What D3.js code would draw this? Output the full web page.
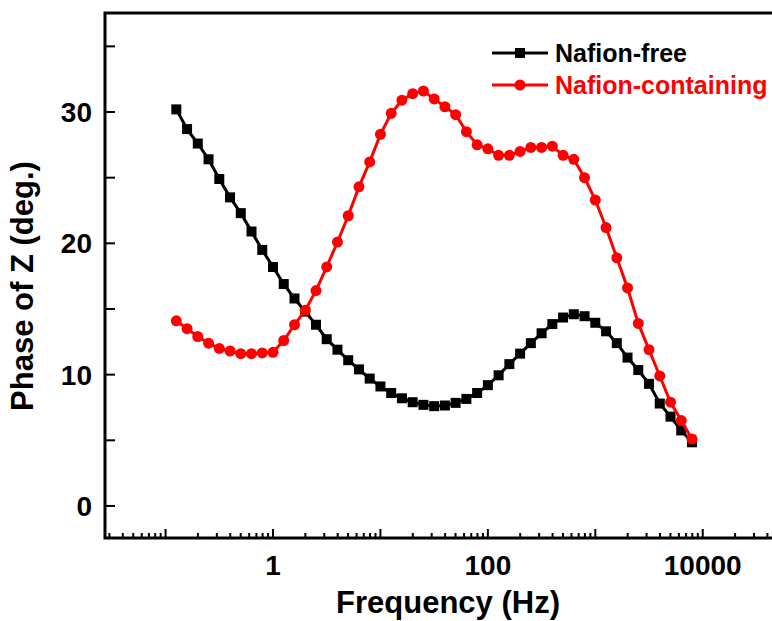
<!DOCTYPE html>
<html>
<head>
<meta charset="utf-8">
<script src="https://cdn.jsdelivr.net/npm/d3@7"></script>
<style>
    html, body { margin: 0; padding: 0; background: #fff; }
    text { font-family: "Liberation Sans", Arial, sans-serif; font-weight: bold; }
</style>
</head>
<body>
<div id="chart"></div>
<script>
// frequencies (Hz), 10 pts / decade
var freqs = [0.1259, 0.1585, 0.1995, 0.2512, 0.3162, 0.3981, 0.5012, 0.631, 0.7943,
    1, 1.259, 1.585, 1.995, 2.512, 3.162, 3.981, 5.012, 6.31, 7.943,
    10, 12.59, 15.85, 19.95, 25.12, 31.62, 39.81, 50.12, 63.1, 79.43,
    100, 125.9, 158.5, 199.5, 251.2, 316.2, 398.1, 501.2, 631, 794.3,
    1000, 1259, 1585, 1995, 2512, 3162, 3981, 5012, 6310, 7943];

var nafionFree = [30.2, 28.7, 27.6, 26.4, 24.9, 23.5, 22.3, 20.9, 19.5,
    18.2, 16.9, 15.8, 14.8, 13.8, 12.7, 11.9, 11.1, 10.4, 9.7,
    9.1, 8.6, 8.2, 7.9, 7.7, 7.6, 7.65, 7.85, 8.15, 8.6,
    9.2, 9.95, 10.8, 11.6, 12.4, 13.15, 13.85, 14.35, 14.6, 14.45,
    13.95, 13.3, 12.4, 11.3, 10.35, 9.3, 7.8, 6.8, 5.75, 4.85];

var nafionContaining = [14.1, 13.5, 12.9, 12.4, 12.0, 11.8, 11.6, 11.6, 11.65,
    11.7, 12.6, 13.8, 14.9, 16.4, 18.2, 20.1, 22.1, 24.3, 26.2,
    28.3, 29.9, 30.9, 31.4, 31.6, 31.0, 30.4, 29.8, 28.5, 27.5,
    27.2, 26.7, 26.7, 27.0, 27.3, 27.3, 27.4, 26.7, 26.4, 25.0,
    23.3, 21.2, 18.9, 16.6, 13.9, 11.9, 9.9, 7.9, 6.5, 5.1];

var seriesNames = ['Nafion-free', 'Nafion-containing'];
var seriesColors = ['#000000', '#ff0000'];
var xTickLabels = [1, 100, 10000];
var yTickLabels = [0, 10, 20, 30];

var W = 772, H = 621;
// plot box (right edge sits off the page like in the original)
var pLeft = 105, pTop = 13, pRight = 790, pBottom = 538;

var svg = d3.select('#chart').append('svg')
    .attr('width', W)
    .attr('height', H);

var x = d3.scaleLog().domain([0.0273, 64900]).range([pLeft, pRight]);
var y = d3.scaleLinear().domain([-2.44, 37.54]).range([pBottom, pTop]);

// minor/major log ticks, drawn inward
var logTicks = x.ticks().filter(function (t) { return t >= x.domain()[0] && t <= x.domain()[1]; });
svg.append('g').selectAll('line')
    .data(logTicks)
    .enter().append('line')
    .attr('x1', function (d) { return x(d); })
    .attr('x2', function (d) { return x(d); })
    .attr('y1', pBottom)
    .attr('y2', function (d) {
        var isMajor = Math.abs(Math.log10(d) - Math.round(Math.log10(d))) < 1e-6;
        return pBottom - (isMajor ? 9 : 5);
    })
    .style('stroke', '#000')
    .style('stroke-width', 2);

svg.append('g').selectAll('text')
    .data(xTickLabels)
    .enter().append('text')
    .attr('x', function (d) { return x(d); })
    .attr('y', 575)
    .attr('text-anchor', 'middle')
    .style('font-size', '28px')
    .text(function (d) { return d; });

// y ticks every 5, same length
var yTicks = d3.range(0, 40, 5);
svg.append('g').selectAll('line')
    .data(yTicks)
    .enter().append('line')
    .attr('x1', pLeft)
    .attr('x2', pLeft + 10)
    .attr('y1', function (d) { return y(d); })
    .attr('y2', function (d) { return y(d); })
    .style('stroke', '#000')
    .style('stroke-width', 2);

svg.append('g').selectAll('text')
    .data(yTickLabels)
    .enter().append('text')
    .attr('x', 92)
    .attr('y', function (d) { return y(d) + 10; })
    .attr('text-anchor', 'end')
    .style('font-size', '28px')
    .text(function (d) { return d; });

// frame
svg.append('rect')
    .attr('x', pLeft)
    .attr('y', pTop)
    .attr('width', pRight - pLeft)
    .attr('height', pBottom - pTop)
    .style('fill', 'none')
    .style('stroke', '#000')
    .style('stroke-width', 3);

// axis titles
svg.append('text')
    .attr('x', 448)
    .attr('y', 613)
    .attr('text-anchor', 'middle')
    .style('font-size', '31px')
    .text('Frequency (Hz)');

svg.append('text')
    .attr('transform', 'translate(33,286) rotate(-90)')
    .attr('text-anchor', 'middle')
    .style('font-size', '31px')
    .text('Phase of Z (deg.)');

var allSeries = [nafionFree, nafionContaining];

var line = d3.line()
    .x(function (d, i) { return x(freqs[i]); })
    .y(function (d) { return y(d); });

function drawMarker(g, k, cx, cy) {
    if (k === 0) {
        g.append('rect')
            .attr('x', cx - 5)
            .attr('y', cy - 5)
            .attr('width', 10)
            .attr('height', 10)
            .style('fill', seriesColors[k]);
    } else {
        g.append('circle')
            .attr('cx', cx)
            .attr('cy', cy)
            .attr('r', 5.5)
            .style('fill', seriesColors[k]);
    }
}

allSeries.forEach(function (vals, k) {
    var g = svg.append('g');
    g.append('path')
        .datum(vals)
        .attr('d', line)
        .style('fill', 'none')
        .style('stroke', seriesColors[k])
        .style('stroke-width', 3);
    vals.forEach(function (v, i) {
        drawMarker(g, k, x(freqs[i]), y(v));
    });
});

// legend
seriesNames.forEach(function (name, k) {
    var ly = 53 + k * 32;
    var g = svg.append('g');
    g.append('line')
        .attr('x1', 492)
        .attr('x2', 548)
        .attr('y1', ly)
        .attr('y2', ly)
        .style('stroke', seriesColors[k])
        .style('stroke-width', 3);
    drawMarker(g, k, 520, ly);
    g.append('text')
        .attr('x', 555)
        .attr('y', ly + 9)
        .style('font-size', '25px')
        .style('fill', seriesColors[k])
        .text(name);
});
</script>
</body>
</html>
